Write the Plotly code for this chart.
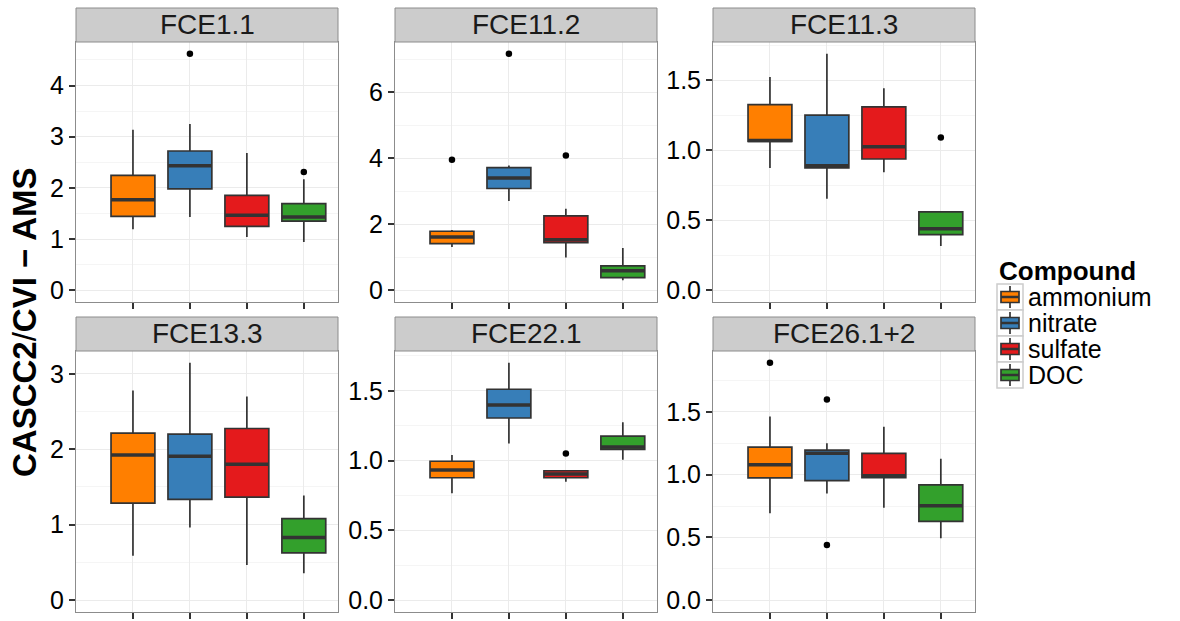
import plotly.graph_objects as go

# ---------------- data ----------------
panels = ["FCE1.1", "FCE11.2", "FCE11.3", "FCE13.3", "FCE22.1", "FCE26.1+2"]
compounds = ["ammonium", "nitrate", "sulfate", "DOC"]
colors = ["#FF7F00", "#377EB8", "#E41A1C", "#33A02C"]

# rows = panels, columns = compounds
lower_fence = [
    [1.19, 1.43, 1.04, 0.94],
    [1.31, 2.70, 0.99, 0.30],
    [0.874, 0.653, 0.843, 0.316],
    [0.588, 0.962, 0.465, 0.356],
    [0.765, 1.123, 0.848, 1.005],
    [0.693, 0.849, 0.736, 0.494],
]
q1_vals = [
    [1.444, 1.98, 1.249, 1.35],
    [1.41, 3.08, 1.44, 0.38],
    [1.064, 0.874, 0.938, 0.397],
    [1.287, 1.335, 1.366, 0.627],
    [0.877, 1.305, 0.877, 1.08],
    [0.974, 0.952, 0.976, 0.627],
]
median_vals = [
    [1.77, 2.43, 1.463, 1.43],
    [1.61, 3.40, 1.53, 0.585],
    [1.07, 0.89, 1.026, 0.44],
    [1.924, 1.906, 1.80, 0.83],
    [0.933, 1.398, 0.903, 1.097],
    [1.079, 1.17, 0.992, 0.752],
]
q3_vals = [
    [2.244, 2.72, 1.854, 1.69],
    [1.785, 3.71, 2.25, 0.735],
    [1.327, 1.251, 1.31, 0.56],
    [2.214, 2.20, 2.275, 1.08],
    [0.995, 1.511, 0.927, 1.175],
    [1.22, 1.196, 1.17, 0.918],
]
upper_fence = [
    [3.135, 3.25, 2.68, 2.17],
    [1.82, 3.78, 2.47, 1.28],
    [1.524, 1.69, 1.444, 0.56],
    [2.78, 3.145, 2.70, 1.388],
    [1.04, 1.70, 0.93, 1.275],
    [1.463, 1.25, 1.381, 1.127],
]
# outliers
out_panel = [0, 0, 1, 1, 1, 2, 4, 5, 5, 5]
out_compound = [1, 3, 0, 1, 2, 3, 2, 0, 1, 1]
out_value = [4.62, 2.31, 3.95, 7.16, 4.08, 1.092, 1.05, 1.891, 1.60, 0.439]

y_ticks = [
    [0, 1, 2, 3, 4],
    [0, 2, 4, 6],
    [0.0, 0.5, 1.0, 1.5],
    [0, 1, 2, 3],
    [0.0, 0.5, 1.0, 1.5],
    [0.0, 0.5, 1.0, 1.5],
]

# ---------------- layout geometry ----------------
W, H = 1180, 621
col_px = [(76, 338), (395, 657), (713, 975)]
row_px = [(42, 302), (351, 612)]
strip_h = 34
box_w = 0.77
FONT = "Liberation Sans, Arial, sans-serif"
EDGE = "#333333"

fig = go.Figure()
layout = {}
annotations = []
shapes = []

for p, name in enumerate(panels):
    r, c = divmod(p, 3)
    idx = p + 1
    xa = "x" if idx == 1 else f"x{idx}"
    ya = "y" if idx == 1 else f"y{idx}"
    x0, x1 = col_px[c]
    y0, y1 = row_px[r]
    xdom = [x0 / W, x1 / W]
    ydom = [1 - y1 / H, 1 - y0 / H]

    for k, comp in enumerate(compounds):
        pos = k + 1
        fig.add_trace(go.Box(
            x=[pos], q1=[q1_vals[p][k]], median=[median_vals[p][k]], q3=[q3_vals[p][k]],
            lowerfence=[lower_fence[p][k]], upperfence=[upper_fence[p][k]],
            width=box_w, fillcolor=colors[k], line=dict(color=EDGE, width=1.7),
            boxpoints=False, whiskerwidth=0, name=comp, legendgroup=comp,
            showlegend=False, xaxis=xa, yaxis=ya, hoverinfo="skip",
        ))
        fig.add_trace(go.Scatter(
            x=[pos - box_w / 2, pos + box_w / 2],
            y=[median_vals[p][k], median_vals[p][k]],
            mode="lines", line=dict(color=EDGE, width=3.5),
            showlegend=False, xaxis=xa, yaxis=ya, hoverinfo="skip",
        ))

    ox = [out_compound[i] + 1 for i in range(len(out_panel)) if out_panel[i] == p]
    oy = [out_value[i] for i in range(len(out_panel)) if out_panel[i] == p]
    if ox:
        fig.add_trace(go.Scatter(
            x=ox, y=oy, mode="markers", marker=dict(color="black", size=6.5),
            showlegend=False, xaxis=xa, yaxis=ya, hoverinfo="skip",
        ))

    # y range: include 0, expand 5%
    vals = upper_fence[p] + lower_fence[p] + oy + [0]
    lo, hi = min(vals), max(vals)
    pad = (hi - lo) * 0.05
    ticks = y_ticks[p]
    step = ticks[1] - ticks[0]
    fmt = ".1f" if step < 1 else "d"

    layout["xaxis" if idx == 1 else f"xaxis{idx}"] = dict(
        domain=xdom, anchor=ya, range=[0, 4.6], tickvals=[1, 2, 3, 4],
        ticktext=["", "", "", ""], ticks="outside", ticklen=6, tickcolor=EDGE,
        tickwidth=1.5, showgrid=True, gridcolor="#EBEBEB", gridwidth=1,
        showline=True, linecolor="#8C8C8C", linewidth=1, mirror=True,
        zeroline=False, fixedrange=True, automargin=False,
    )
    layout["yaxis" if idx == 1 else f"yaxis{idx}"] = dict(
        domain=ydom, anchor=xa, range=[lo - pad, hi + pad], tickvals=ticks,
        tickformat=fmt, ticks="outside", ticklen=6, tickcolor=EDGE,
        tickwidth=1.5, showgrid=True, gridcolor="#EBEBEB", gridwidth=1,
        minor=dict(tick0=0, dtick=step / 2, showgrid=True, gridcolor="#F5F5F5",
                   gridwidth=1, ticks=""),
        showline=True, linecolor="#8C8C8C", linewidth=1, mirror=True,
        zeroline=False, tickfont=dict(size=25, color="black", family=FONT),
        fixedrange=True, automargin=False,
    )

    # strip
    shapes.append(dict(
        type="rect", xref=f"{xa} domain", yref=f"{ya} domain",
        x0=0, x1=1, y0=1, y1=1 + strip_h / (y1 - y0),
        fillcolor="#CCCCCC", line=dict(color="#8C8C8C", width=1), layer="above",
    ))
    annotations.append(dict(
        text=name, xref=f"{xa} domain", yref=f"{ya} domain",
        x=0.5, y=1 + strip_h / 2 / (y1 - y0), xanchor="center", yanchor="middle",
        showarrow=False, font=dict(size=28, color="#1A1A1A", family=FONT),
    ))

# y-axis title
annotations.append(dict(
    text="<b>CASCC2</b>/<b>CVI − AMS</b>", xref="paper", yref="paper",
    x=24 / W, y=1 - 322 / H, textangle=-90, xanchor="center", yanchor="middle",
    showarrow=False, font=dict(size=33, color="black", family=FONT),
))

# legend (ggplot-style keys)
leg_x, leg_top, key_sz = 997, 284, 26
annotations.append(dict(
    text="<b>Compound</b>", xref="paper", yref="paper",
    x=leg_x / W, y=1 - 271 / H, xanchor="left", yanchor="middle",
    showarrow=False, font=dict(size=26, color="black", family=FONT),
))
for k, comp in enumerate(compounds):
    ty = leg_top + k * key_sz
    by = ty + key_sz
    cx = leg_x + key_sz / 2
    cy = ty + key_sz / 2
    shapes.append(dict(type="rect", xref="paper", yref="paper",
                       x0=leg_x / W, x1=(leg_x + key_sz) / W, y0=1 - by / H, y1=1 - ty / H,
                       fillcolor="white", line=dict(color="#CCCCCC", width=1.5)))
    shapes.append(dict(type="line", xref="paper", yref="paper",
                       x0=cx / W, x1=cx / W, y0=1 - (by - 2) / H, y1=1 - (ty + 2) / H,
                       line=dict(color=EDGE, width=1.7)))
    shapes.append(dict(type="rect", xref="paper", yref="paper",
                       x0=(leg_x + 4) / W, x1=(leg_x + key_sz - 4) / W,
                       y0=1 - (cy + 5.5) / H, y1=1 - (cy - 5.5) / H,
                       fillcolor=colors[k], line=dict(color=EDGE, width=1.7)))
    shapes.append(dict(type="line", xref="paper", yref="paper",
                       x0=(leg_x + 4) / W, x1=(leg_x + key_sz - 4) / W,
                       y0=1 - cy / H, y1=1 - cy / H,
                       line=dict(color=EDGE, width=2.5)))
    annotations.append(dict(
        text=comp, xref="paper", yref="paper",
        x=(leg_x + key_sz + 3) / W, y=1 - cy / H, xanchor="left", yanchor="middle",
        showarrow=False, font=dict(size=25, color="black", family=FONT),
    ))

fig.update_layout(
    **layout,
    width=W, height=H,
    margin=dict(l=0, r=0, t=0, b=0, autoexpand=False),
    paper_bgcolor="white", plot_bgcolor="white",
    font=dict(family=FONT, color="black"),
    shapes=shapes, annotations=annotations,
    showlegend=False,
)

fig.write_html(
    "out.html",
    config={"displayModeBar": False},
    post_script="document.body.style.margin='0px';document.body.style.padding='0px';",
)
